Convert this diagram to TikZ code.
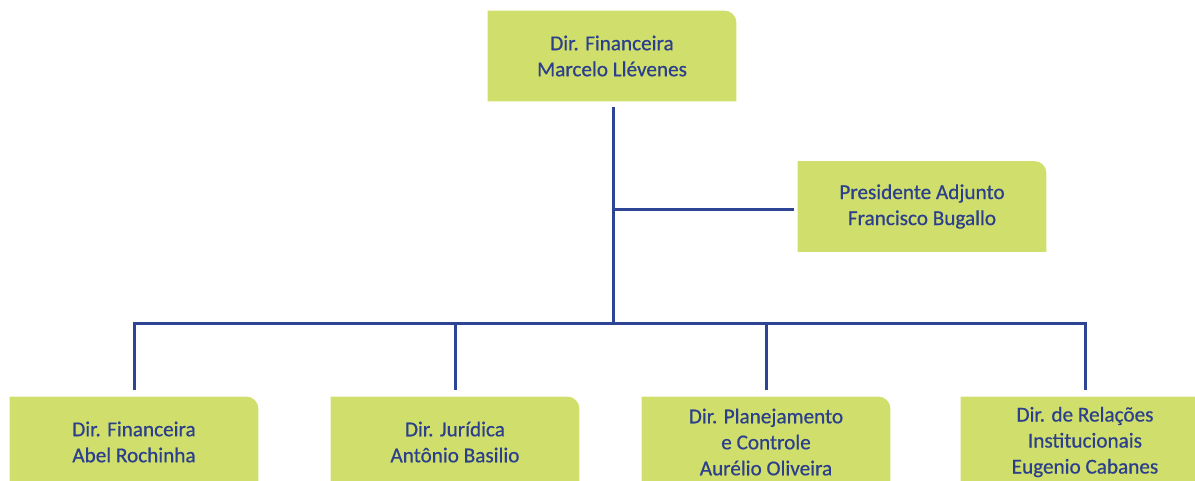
\documentclass[tikz,border=0pt]{standalone}
\usepackage{fontspec}
\setmainfont{Carlito}
\newfontfamily\boxfont{Carlito}[FakeBold=0.6]
\usetikzlibrary{backgrounds}
\definecolor{boxfill}{HTML}{D0DF6B}
\definecolor{textblue}{HTML}{2B3F8C}
\definecolor{lineblue}{HTML}{2E4494}
\tikzset{
  orgbox/.style={rectangle, minimum width=124pt, minimum height=45pt, inner sep=0pt,
    align=center, text=textblue, font=\boxfont\fontsize{10.6pt}{13pt}\selectfont},
  link/.style={draw=lineblue, line width=1.5pt},
}
\newcommand\boxbg[1]{\fill[boxfill] (#1.south west) -- (#1.north west) -- ([xshift=-6pt]#1.north east) arc[start angle=90,end angle=0,radius=6pt] -- (#1.south east) -- cycle;}
\begin{document}
\begin{tikzpicture}[x=0.5pt,y=-0.5pt]
\useasboundingbox (0,0) rectangle (1195,481);
\clip (0,0) rectangle (1195,481);
\node[orgbox] (top) at (612,56) {Dir. Financeira\\Marcelo Llévenes};
\node[orgbox] (adj) at (922,206.5) {Presidente Adjunto\\Francisco Bugallo};
\node[orgbox] (b1) at (134,442) {Dir. Financeira\\Abel Rochinha};
\node[orgbox] (b2) at (455,442) {Dir. Jurídica\\Antônio Basilio};
\node[orgbox] (b3) at (766,442) {Dir. Planejamento\\e Controle\\Aurélio Oliveira};
\node[orgbox] (b4) at (1085,442) {Dir. de Relações\\Institucionais\\Eugenio Cabanes};
\begin{scope}[on background layer]
\boxbg{top}\boxbg{adj}\boxbg{b1}\boxbg{b2}\boxbg{b3}\boxbg{b4}
\end{scope}
\coordinate (j) at (613,210);
\coordinate (bus) at (613,323);
\draw[link] ([yshift=-3pt]top.south -| j) -- (bus);
\draw[link] (j) -- ([xshift=-2pt]adj.west |- j);
\draw[link] ([yshift=3.5pt]b1.north) -- (b1.north |- bus) -- (b4.north |- bus) -- ([yshift=3.5pt]b4.north);
\draw[link] (b2.north |- bus) -- ([yshift=3.5pt]b2.north);
\draw[link] (b3.north |- bus) -- ([yshift=3.5pt]b3.north);
\end{tikzpicture}
\end{document}
